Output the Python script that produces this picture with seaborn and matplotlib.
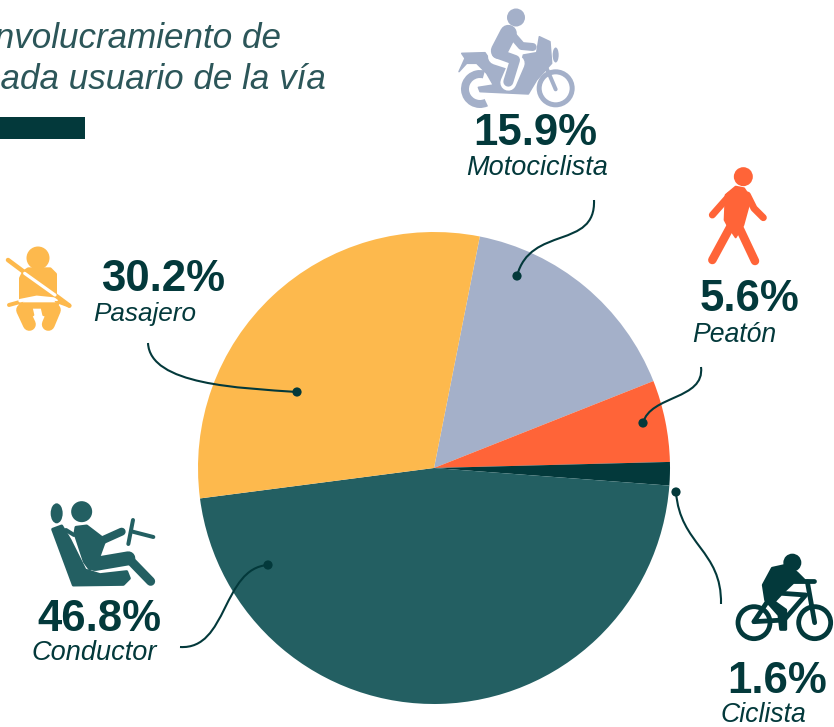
import numpy as np
import matplotlib
matplotlib.use("Agg")
import matplotlib.pyplot as plt
import seaborn as sns
from matplotlib.patches import Circle, Ellipse, Polygon, PathPatch, Rectangle, Wedge
from matplotlib.path import Path

# ---- data -------------------------------------------------------------
categories = ["Motociclista", "Peatón", "Ciclista", "Conductor", "Pasajero"]
shares = [15.9, 5.6, 1.6, 46.8, 30.2]
share_labels = ["15.9%", "5.6%", "1.6%", "46.8%", "30.2%"]
slice_colors = ["#A4B0C9", "#FF6438", "#03393B", "#235F62", "#FDB94D"]
title_lines = ["involucramiento de", "cada usuario de la vía"]

DARK = "#03393B"
TITLE = "#2C5659"
sns.set_theme(style="white")
plt.rcParams["font.family"] = ["Liberation Sans", "DejaVu Sans"]

W, H = 834, 727
fig = plt.figure(figsize=(W / 100, H / 100), dpi=100, facecolor="white")

# ---- pie --------------------------------------------------------------
cx, cy, r = 434, 468, 236
pie_ax = fig.add_axes([(cx - r) / W, (H - cy - r) / H, 2 * r / W, 2 * r / H])
pie_ax.pie(shares, colors=slice_colors, startangle=78.8, counterclock=False,
           radius=1, wedgeprops=dict(linewidth=0))
pie_ax.set_xlim(-1, 1)
pie_ax.set_ylim(-1, 1)

# ---- overlay in pixel coordinates ------------------------------------
ov = fig.add_axes([0, 0, 1, 1], facecolor="none")
ov.set_xlim(0, W)
ov.set_ylim(H, 0)
ov.axis("off")
PX = 0.72


def line(pts, color, w, cap="round"):
    pts = np.array(pts, float)
    ov.plot(pts[:, 0], pts[:, 1], color=color, lw=w * PX, solid_capstyle=cap,
            solid_joinstyle="round")


def poly(pts, color, round_w=1.5):
    ov.add_patch(Polygon(pts, closed=True, fc=color, ec=color, lw=round_w * PX, joinstyle="round"))


def circ(x, y, rad, color):
    ov.add_patch(Circle((x, y), rad, fc=color, ec="none"))


def zoomed(x0, y0, pts):
    return [(x0 + a / 3, y0 + b / 3) for a, b in pts]


# title
for txt, y, xr in zip(title_lines, [48, 89], [281, 326]):
    ov.text(xr, y, txt, ha="right", va="baseline", fontsize=25.2, style="italic",
            color=TITLE, clip_on=True)
ov.add_patch(Rectangle((-5, 117), 90, 22, fc=DARK, ec="none"))

# value + name labels
placements = {
    "Motociclista": (535.5, 145, 537, 175),
    "Peatón": (750, 311, 734.5, 342),
    "Ciclista": (777.5, 693, 763, 722),
    "Conductor": (99, 631, 94, 660),
    "Pasajero": (163, 291, 145, 321),
}
name_sizes = {"Motociclista": 19.5, "Peatón": 19.2, "Ciclista": 19.2, "Conductor": 19.5, "Pasajero": 18.8}
for cat, lab in zip(categories, share_labels):
    xv, yv, xn, yn = placements[cat]
    ov.text(xv, yv, lab, ha="center", va="baseline", fontsize=31.5, fontweight="bold", color=DARK)
    ov.text(xn, yn, cat, ha="center", va="baseline", fontsize=name_sizes[cat], style="italic", color=DARK)

# leaders
leaders = [
    ((594, 200), (596, 250), (530, 225), (517, 276)),
    ((701, 367), (705, 400), (650, 395), (643, 423)),
    ((148, 343), (150, 385), (240, 388), (297, 392)),
    ((180, 647), (228, 650), (222, 568), (268, 565)),
    ((721, 604), (722, 550), (680, 545), (676, 492)),
]
for p in leaders:
    ov.add_patch(PathPatch(Path(p, [Path.MOVETO, Path.CURVE4, Path.CURVE4, Path.CURVE4]),
                           fc="none", ec=DARK, lw=1.5))
    ov.add_patch(Circle(p[3], 4.6, fc=DARK, ec="none", zorder=5))

# --- motorcycle icon ---
c = "#A4B0C9"
ox, oy = 440, 0
circ(516, 17.5, 9, c)
poly(zoomed(ox, oy, [(65, 160), (135, 158), (150, 180), (190, 198), (240, 205), (250, 165), (290, 158),
                     (298, 110), (330, 125), (335, 190), (290, 240), (265, 282), (120, 275), (115, 262),
                     (160, 255), (140, 220), (110, 190), (80, 190), (57, 215), (75, 175)]), c)
ov.add_patch(Wedge((480, 89), 19, 65, 285, width=8, fc=c, ec="none"))
ov.add_patch(Circle((440 + 347 / 3, 265 / 3), 16.5, fc="none", ec=c, lw=5 * PX))
line(zoomed(ox, oy, [(320, 205), (347, 268)]), c, 4)
ov.add_patch(Ellipse((440 + 347 / 3, 165 / 3), 6, 15, fc=c, ec="none"))
line(zoomed(ox, oy, [(168, 170), (230, 190), (205, 248)]), "white", 16)
line(zoomed(ox, oy, [(205, 100), (178, 152)]), c, 17)
line(zoomed(ox, oy, [(212, 100), (245, 138), (278, 141)]), c, 8)
line(zoomed(ox, oy, [(170, 160), (225, 180), (205, 245)]), c, 10)

# --- seat belt icon ---
c = "#FDB94D"
ox, oy = 0, 235
circ(38, 258, 11.5, c)
poly(zoomed(ox, oy, [(72, 112), (85, 103), (150, 103), (165, 118), (165, 190), (135, 185), (95, 185),
                     (63, 195), (63, 130)]), c, 4)
line(zoomed(ox, oy, [(27, 210), (63, 200)]), c, 4)
line(zoomed(ox, oy, [(170, 198), (208, 212)]), c, 4)
poly(zoomed(ox, oy, [(58, 205), (175, 205), (160, 250), (130, 240), (125, 218), (95, 218), (100, 240), (75, 255)]), c, 2)
line(zoomed(ox, oy, [(68, 225), (88, 268)]), c, 13)
line(zoomed(ox, oy, [(163, 225), (145, 268)]), c, 13)
line(zoomed(ox, oy, [(60, 197), (110, 187), (170, 193)]), "white", 3.5)
line(zoomed(ox, oy, [(24, 75), (208, 212)]), c, 4.5)
line(zoomed(ox, oy, [(74, 115), (165, 180)]), "white", 3.2)

# --- driver icon ---
c = "#235F62"
ox, oy = 30, 490
ov.add_patch(Ellipse((30 + 80 / 3, 490 + 70 / 3), 12, 20, fc=c, ec="none"))
circ(30 + 155 / 3, 490 + 65 / 3, 10.5, c)
poly(zoomed(ox, oy, [(68, 118), (95, 108), (120, 150), (165, 240), (210, 254), (290, 245), (298, 265),
                     (280, 283), (130, 285)]), c, 3)
poly(zoomed(ox, oy, [(138, 112), (170, 108), (225, 150), (205, 205), (180, 238), (163, 215), (135, 130)]), c, 3)
line(zoomed(ox, oy, [(215, 152), (275, 125)]), c, 8)
line(zoomed(ox, oy, [(195, 222), (295, 205)]), c, 14)
line(zoomed(ox, oy, [(298, 208), (362, 274)]), c, 9)
line(zoomed(ox, oy, [(108, 120), (132, 135)]), c, 4)
line(zoomed(ox, oy, [(309, 90), (295, 162)]), c, 4)
line(zoomed(ox, oy, [(308, 125), (370, 141)]), c, 4)

# --- pedestrian icon ---
c = "#FF6438"
ox, oy = 694, 150
circ(694 + 148 / 3, 150 + 80 / 3, 9.5, c)
line(zoomed(ox, oy, [(108, 135), (55, 195)]), c, 7)
line(zoomed(ox, oy, [(160, 135), (180, 175), (208, 203)]), c, 7)
poly(zoomed(ox, oy, [(95, 135), (125, 110), (150, 115), (170, 145), (148, 225), (125, 262), (100, 225), (92, 210)]), c, 2)
line(zoomed(ox, oy, [(112, 225), (55, 330)]), c, 8.5)
line(zoomed(ox, oy, [(132, 225), (183, 333)]), c, 8.5)

# --- cyclist icon ---
c = DARK
ox, oy = 724, 540
circ(724 + 205 / 3, 540 + 68 / 3, 9, c)
poly(zoomed(ox, oy, [(118, 135), (145, 85), (190, 75), (220, 100), (245, 125), (210, 125), (175, 158),
                     (150, 185), (185, 210), (185, 268), (170, 268), (165, 225), (125, 180)]), c, 3)
ov.add_patch(Circle((724 + 90 / 3, 540 + 248 / 3), 16, fc="none", ec=c, lw=4.8 * PX))
ov.add_patch(Circle((724 + 272 / 3, 540 + 248 / 3), 16, fc="none", ec=c, lw=4.8 * PX))
line(zoomed(ox, oy, [(90, 245), (130, 185)]), c, 4.8)
line(zoomed(ox, oy, [(90, 245), (180, 240), (245, 165), (175, 160)]), c, 4.8)
line(zoomed(ox, oy, [(250, 125), (272, 248)]), c, 4.8)
line(zoomed(ox, oy, [(210, 122), (270, 122)]), c, 4.8)

fig.savefig("out.png", dpi=100, facecolor="white")
